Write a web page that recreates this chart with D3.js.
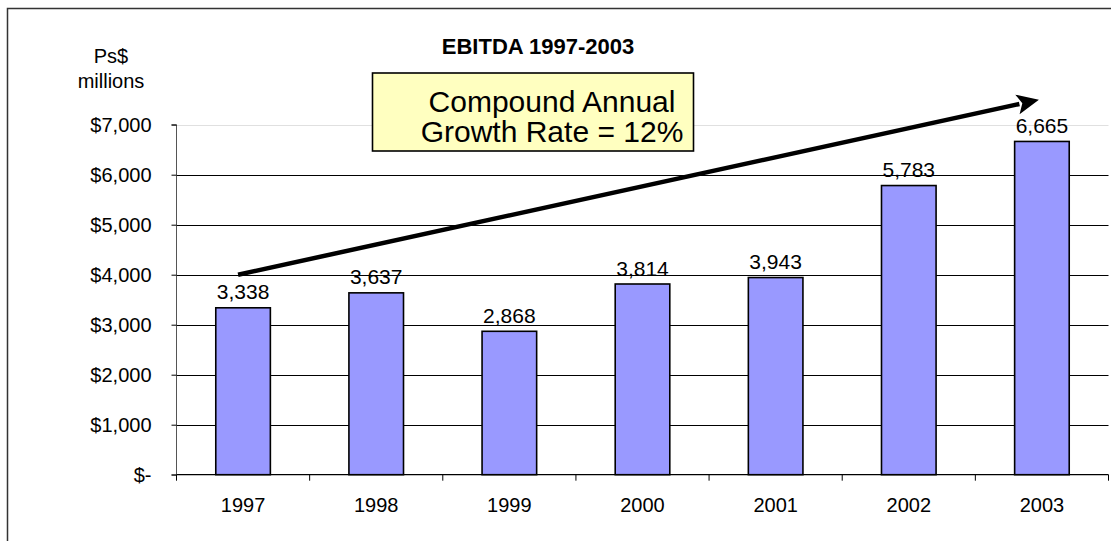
<!DOCTYPE html>
<html>
<head>
<meta charset="utf-8">
<script src="https://cdn.jsdelivr.net/npm/d3@7"></script>
<style>
  html, body { margin: 0; padding: 0; background: #fff; }
  svg { display: block; font-family: "Liberation Sans", Arial, sans-serif; }
</style>
</head>
<body>
<svg id="chart" width="1111" height="541"></svg>
<script>
const years = ["1997", "1998", "1999", "2000", "2001", "2002", "2003"];
const ebitda = [3338, 3637, 2868, 3814, 3943, 5783, 6665];
const yTicks = [0, 1000, 2000, 3000, 4000, 5000, 6000, 7000];
const yTickLabels = ["$-", "$1,000", "$2,000", "$3,000", "$4,000", "$5,000", "$6,000", "$7,000"];
const valueLabels = ["3,338", "3,637", "2,868", "3,814", "3,943", "5,783", "6,665"];
const titleText = "EBITDA 1997-2003";
const unitLines = ["Ps$", "millions"];
const calloutLines = ["Compound Annual", "Growth Rate = 12%"];
const arrowFrom = { year: "1997", value: 4000 };
const arrowTo = { year: "2003", value: 7500 };

(function () {
const svg = d3.select("#chart");

// outer frame (left & top visible)
svg.append("rect")
  .attr("x", 7.5).attr("y", 8.5).attr("width", 1112).attr("height", 540)
  .attr("fill", "none").attr("stroke", "#333").attr("stroke-width", 1.5);

const pLeft = 176.5, pRight = 1108.5, pTop = 124.7, pBottom = 474.7;

const x = d3.scaleBand().domain(years).range([pLeft, pRight])
  .paddingInner(0.59).paddingOuter(0.295);
const y = d3.scaleLinear().domain([0, 7000]).range([pBottom, pTop]);

// gridlines
svg.append("g").selectAll("line").data(yTicks.filter(d => d > 0)).join("line")
  .attr("x1", pLeft).attr("x2", pRight)
  .attr("y1", d => Math.round(y(d)) + 0.5).attr("y2", d => Math.round(y(d)) + 0.5)
  .attr("stroke", d => d === 7000 ? "#e0e0e0" : "#000").attr("stroke-width", 1);

// y axis
const yAxis = d3.axisLeft(y).tickValues(yTicks)
  .tickFormat((d, i) => yTickLabels[i]).tickSize(5).tickPadding(20);
const gy = svg.append("g").attr("transform", `translate(${pLeft},0)`).call(yAxis);
gy.select(".domain").attr("stroke", "#555").attr("d", `M-5,${y(7000)}H0V${pBottom}H-5`);
gy.selectAll(".tick line").attr("stroke", "#000");
gy.selectAll(".tick text").attr("font-size", 20).attr("fill", "#000")
  .attr("font-family", "Liberation Sans, Arial, sans-serif");

// x axis
const step = x.step();
const xAxisG = svg.append("g").attr("transform", `translate(0,${pBottom})`);
xAxisG.append("line").attr("x1", pLeft).attr("x2", pRight).attr("y1", 0).attr("y2", 0)
  .attr("stroke", "#000").attr("stroke-width", 1.2);
const boundaries = d3.range(years.length + 1).map(i => pLeft + i * step);
xAxisG.selectAll(".xt").data(boundaries).join("line").attr("class", "xt")
  .attr("x1", d => d).attr("x2", d => d).attr("y1", 0).attr("y2", 6)
  .attr("stroke", "#000");
xAxisG.selectAll(".xl").data(years).join("text").attr("class", "xl")
  .attr("x", d => x(d) + x.bandwidth() / 2).attr("y", 37.5)
  .attr("text-anchor", "middle").attr("font-size", 20).attr("fill", "#000")
  .text(d => d);

// bars
svg.append("g").selectAll("rect").data(ebitda).join("rect")
  .attr("x", (d, i) => x(years[i]))
  .attr("y", d => y(d))
  .attr("width", x.bandwidth())
  .attr("height", d => pBottom - y(d))
  .attr("fill", "#9999FF").attr("stroke", "#000").attr("stroke-width", 1.6);

// value labels
svg.append("g").selectAll("text").data(ebitda).join("text")
  .attr("x", (d, i) => x(years[i]) + x.bandwidth() / 2)
  .attr("y", d => y(d) - 8.5)
  .attr("text-anchor", "middle").attr("font-size", 21).attr("fill", "#000")
  .text((d, i) => valueLabels[i]);

// unit label
svg.append("g").selectAll("text").data(unitLines).join("text")
  .attr("x", 111).attr("y", (d, i) => 63 + i * 24.5)
  .attr("text-anchor", "middle").attr("font-size", 20).attr("fill", "#000")
  .text(d => d);

// title
svg.append("text").attr("x", 538).attr("y", 54).attr("text-anchor", "middle")
  .attr("font-size", 22).attr("font-weight", "bold").attr("fill", "#000")
  .text(titleText);

// callout box
svg.append("rect").attr("x", 372.5).attr("y", 73).attr("width", 321).attr("height", 78)
  .attr("fill", "#FFFFC0").attr("stroke", "#000").attr("stroke-width", 1.6);
svg.append("g").selectAll("text").data(calloutLines).join("text")
  .attr("x", 552).attr("y", (d, i) => 111.5 + i * 30.5)
  .attr("text-anchor", "middle").attr("font-size", 30).attr("fill", "#000")
  .text(d => d);

// arrow
const ax1 = x(arrowFrom.year) + x.bandwidth() / 2 - 5, ay1 = y(arrowFrom.value);
const ax2 = x(arrowTo.year) + x.bandwidth() / 2 - 3, ay2 = y(arrowTo.value);
const ang = Math.atan2(ay2 - ay1, ax2 - ax1);
const headLen = 22, headW = 10;
const bx = ax2 - headLen * Math.cos(ang), by = ay2 - headLen * Math.sin(ang);
svg.append("line").attr("x1", ax1).attr("y1", ay1)
  .attr("x2", bx + 2 * Math.cos(ang)).attr("y2", by + 2 * Math.sin(ang))
  .attr("stroke", "#000").attr("stroke-width", 4.5);
const px = -Math.sin(ang), py = Math.cos(ang);
svg.append("path")
  .attr("d", `M${ax2},${ay2}L${bx + px * headW},${by + py * headW}L${bx + 5 * Math.cos(ang)},${by + 5 * Math.sin(ang)}L${bx - px * headW},${by - py * headW}Z`)
  .attr("fill", "#000");
})();
</script>
</body>
</html>
